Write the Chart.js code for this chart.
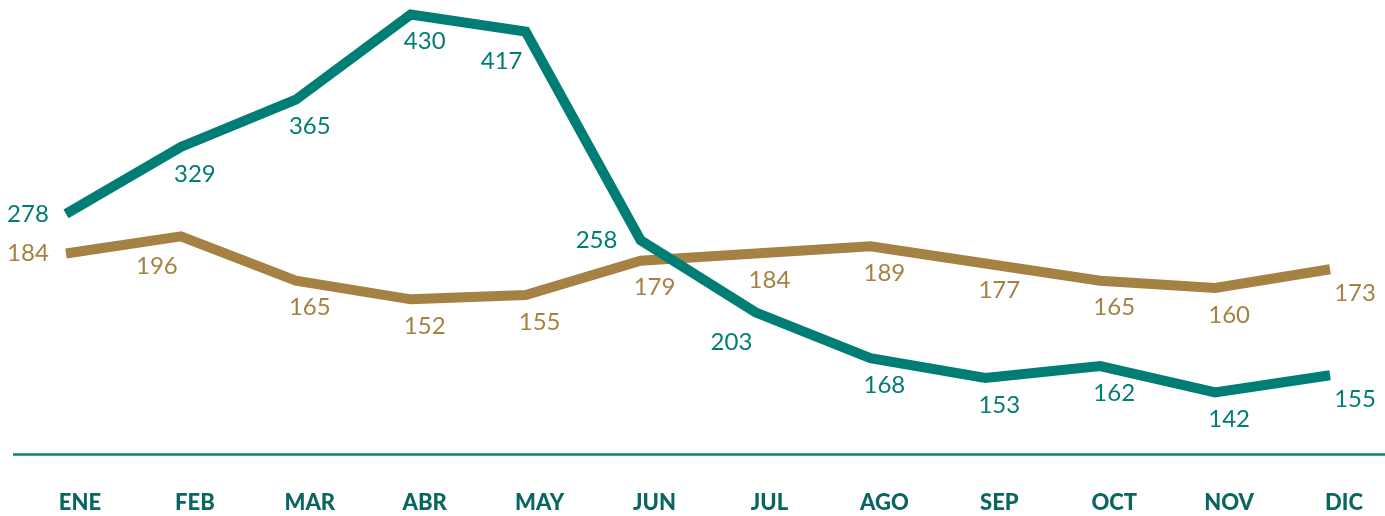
<!DOCTYPE html>
<html>
<head>
<meta charset="utf-8">
<script src="https://cdn.jsdelivr.net/npm/chart.js@4.4.1/dist/chart.umd.min.js"></script>
<style>
  html, body { margin: 0; padding: 0; background: #fff; }
  #wrap { width: 1385px; height: 516px; position: relative; }
</style>
</head>
<body>
<div id="wrap"><canvas id="canvas"></canvas></div>
<script>
// months on the x axis
var months = ["ENE", "FEB", "MAR", "ABR", "MAY", "JUN", "JUL", "AGO", "SEP", "OCT", "NOV", "DIC"];

// values written next to each line
var tealValues = [278, 329, 365, 430, 417, 258, 203, 168, 153, 162, 142, 155];
var goldValues = [184, 196, 165, 152, 155, 179, 184, 189, 177, 165, 160, 173];

var TEAL = "#007d74";
var GOLD = "#a58143";
var DARK = "#0a6660";

// baseline under the plot, runs wider than the plot area
var baseLine = {
  id: "baseLine",
  beforeDatasetsDraw: function(chart) {
    var ctx = chart.ctx;
    var y = Math.round(chart.chartArea.bottom) + 0.5;
    ctx.save();
    ctx.strokeStyle = "#11807a";
    ctx.lineWidth = 2.5;
    ctx.beginPath();
    ctx.moveTo(13, y);
    ctx.lineTo(chart.width, y);
    ctx.stroke();
    ctx.restore();
  }
};

// value labels, placed next to each point where they don't sit on a line
var valueLabels = {
  id: "valueLabels",
  afterDatasetsDraw: function(chart) {
    var ctx = chart.ctx;
    ctx.save();
    ctx.font = "400 24px Lato";
    ctx.textAlign = "center";
    ctx.textBaseline = "middle";

    var segs = [];
    chart.data.datasets.forEach(function(ds, d) {
      var pts = chart.getDatasetMeta(d).data;
      for (var i = 1; i < pts.length; i++) segs.push([pts[i - 1], pts[i]]);
    });

    var placed = [];
    function hits(b) {
      for (var s = 0; s < segs.length; s++) {
        var a = segs[s][0], c = segs[s][1];
        for (var t = 0; t <= 1; t += 0.02) {
          var x = a.x + (c.x - a.x) * t, y = a.y + (c.y - a.y) * t;
          if (x > b.l - 7 && x < b.r + 7 && y > b.t - 7 && y < b.b + 7) return true;
        }
      }
      return placed.some(function(p) {
        return b.l < p.r && b.r > p.l && b.t < p.b && b.b > p.t;
      });
    }

    chart.data.datasets.forEach(function(ds, d) {
      var pts = chart.getDatasetMeta(d).data;
      ctx.fillStyle = ds.borderColor;
      pts.forEach(function(pt, i) {
        var txt = String(ds.data[i]);
        var w = ctx.measureText(txt).width, h = 18;
        var cands = [[14, 27], [-24, 30], [14, -27], [-34, -24], [44, 0], [-44, 0]];
        if (i === 0) cands = [[-38, 0]].concat(cands);
        if (i === pts.length - 1) cands = [[25, 24]].concat(cands);
        var pick = cands[0], box = null;
        for (var k = 0; k < cands.length; k++) {
          var cx = pt.x + cands[k][0], cy = pt.y + cands[k][1];
          var b = { l: cx - w / 2, r: cx + w / 2, t: cy - h / 2, b: cy + h / 2 };
          if (!hits(b)) { pick = cands[k]; box = b; break; }
        }
        if (!box) {
          var px = pt.x + pick[0], py = pt.y + pick[1];
          box = { l: px - w / 2, r: px + w / 2, t: py - h / 2, b: py + h / 2 };
        }
        placed.push(box);
        ctx.fillText(txt, pt.x + pick[0], pt.y + pick[1]);
      });
    });
    ctx.restore();
  }
};

var ctx = document.getElementById("canvas").getContext("2d");
window.myLine = new Chart(ctx, {
  type: "line",
  data: {
    labels: months,
    datasets: [
      {
        label: "Serie 1",
        data: tealValues,
        yAxisID: "yT",
        borderColor: TEAL,
        backgroundColor: TEAL,
        borderWidth: 10,
        borderJoinStyle: "miter",
        borderCapStyle: "butt",
        pointRadius: 0,
        tension: 0,
        fill: false
      },
      {
        label: "Serie 2",
        data: goldValues,
        yAxisID: "yG",
        borderColor: GOLD,
        backgroundColor: GOLD,
        borderWidth: 10,
        borderJoinStyle: "miter",
        borderCapStyle: "butt",
        pointRadius: 0,
        tension: 0,
        fill: false
      }
    ]
  },
  options: {
    responsive: true,
    maintainAspectRatio: false,
    animation: false,
    layout: { padding: { left: 66, right: 52, top: 0, bottom: 0 } },
    plugins: {
      legend: { display: false },
      tooltip: { enabled: false }
    },
    scales: {
      x: {
        offset: false,
        grid: { display: false, drawTicks: false },
        border: { display: false },
        afterFit: function(scale) { scale.height = 62; },
        ticks: {
          color: DARK,
          font: { family: "Lato", size: 22, weight: "900" },
          padding: 36,
          labelOffset: 14,
          maxRotation: 0,
          autoSkip: false
        }
      },
      yT: { display: false, min: 95, max: 441 },
      yG: { display: false, min: 44, max: 361 }
    }
  },
  plugins: [baseLine, valueLabels]
});
</script>
</body>
</html>
